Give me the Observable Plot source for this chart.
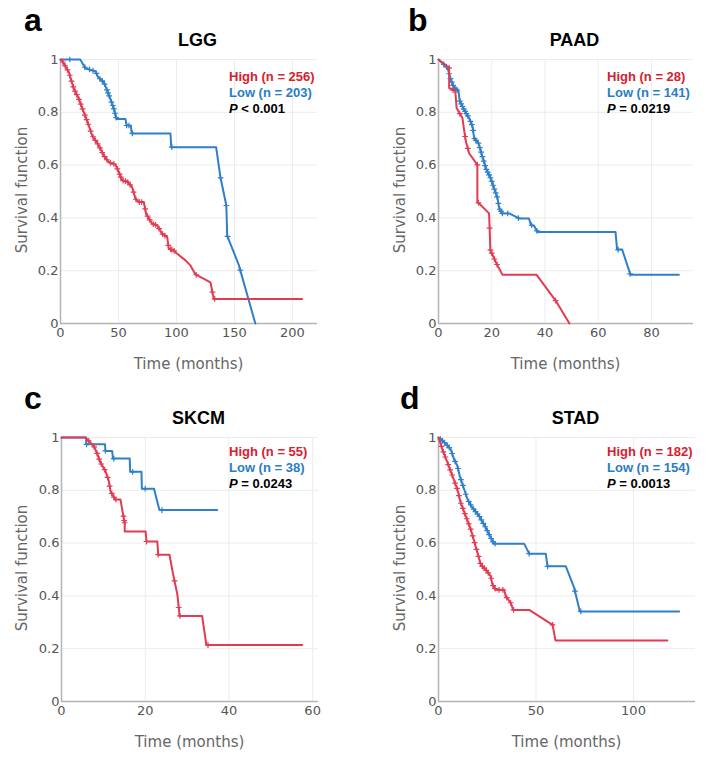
<!DOCTYPE html>
<html><head><meta charset="utf-8">
<script src="https://cdn.jsdelivr.net/npm/d3@7"></script>
<script src="https://cdn.jsdelivr.net/npm/@observablehq/plot@0.6"></script>
<style>
body{margin:0;background:#fff;}
#root{position:relative;width:709px;height:759px;overflow:hidden;}
.panel{position:absolute;width:350px;height:380px;}
.panel svg{position:absolute;left:0;top:0;}
.ov{position:absolute;white-space:nowrap;}
.letter{font:bold 32px "Liberation Sans",Arial,sans-serif;color:#000;line-height:1;}
.title{font:bold 18px "Liberation Sans",Arial,sans-serif;color:#000;transform:translate(-50%,-50%);}
.leg{font:bold 13px "Liberation Sans",Arial,sans-serif;line-height:16px;}
.ylab{font:15px "DejaVu Sans",sans-serif;color:#666;transform:translate(-50%,-50%) rotate(-90deg);}
.xlab{font:15px "DejaVu Sans",sans-serif;color:#666;transform:translate(-50%,-50%);}
</style></head>
<body><div id="root"></div>
<script>
// ---------- data ----------
const panelLetters = ["a", "b", "c", "d"];
const panelTitles = ["LGG", "PAAD", "SKCM", "STAD"];
const highN = [256, 28, 55, 182];
const lowN = [203, 141, 38, 154];
const pTexts = ["< 0.001", "= 0.0219", "= 0.0243", "= 0.0013"];
const xMaxes = [221.6, 95.8, 61.4, 131.8];
const xTickSets = [[0, 50, 100, 150, 200], [0, 20, 40, 60, 80], [0, 20, 40, 60], [0, 50, 100]];
const yTicks = [0, 0.2, 0.4, 0.6, 0.8, 1];

// LGG
const lggHighT = [0, 1.4, 7.2, 11.5, 15.8, 20.1, 24.4, 27.3, 33, 37.3, 41.6, 47.4, 50.3, 53.2, 57.5, 61.8, 64.7, 67.5, 71.8, 73.9, 79, 83.3, 87.6, 92, 93.4, 97.7, 99, 107.8, 112, 116.4, 129.3, 130.7, 132.2, 208.3];
const lggHighS = [1, 0.995, 0.952, 0.889, 0.851, 0.80, 0.75, 0.712, 0.674, 0.636, 0.611, 0.602, 0.573, 0.542, 0.538, 0.516, 0.472, 0.46, 0.46, 0.415, 0.378, 0.372, 0.34, 0.327, 0.283, 0.277, 0.27, 0.239, 0.22, 0.186, 0.156, 0.125, 0.093, 0.093];
const lggHighCens = [2, 4, 6, 8, 9.5, 11, 12.5, 14, 16, 17.5, 19, 21, 22.5, 24, 26, 28, 30, 32, 34, 36, 38, 40, 43, 46, 49, 51, 52, 54, 56, 58, 60, 63, 65, 68, 70, 73, 75, 77, 80, 82, 85, 88, 90, 93, 95, 96, 98, 117, 131, 133];
const lggLowT = [0, 17, 21.5, 30.2, 32.5, 37.3, 40.2, 43, 46, 48.3, 56, 57, 60.5, 61.5, 94.8, 95.5, 134.2, 137.9, 143, 143.7, 153.7, 168];
const lggLowS = [1, 1, 0.967, 0.955, 0.933, 0.914, 0.883, 0.851, 0.813, 0.775, 0.775, 0.75, 0.75, 0.72, 0.72, 0.668, 0.668, 0.554, 0.447, 0.333, 0.222, 0];
const lggLowCens = [8, 21, 25, 28, 31, 34, 36, 38, 40, 41, 42, 44, 45, 46, 47, 48, 57, 59, 62, 96, 138, 143, 144, 155];

// PAAD
const paadHighT = [0, 4, 4, 6.3, 6.8, 9, 9.6, 10.3, 11.5, 14.6, 14.6, 19, 19.5, 21.5, 24, 36.8, 44, 49.2];
const paadHighS = [1, 0.968, 0.892, 0.88, 0.816, 0.778, 0.734, 0.689, 0.645, 0.601, 0.461, 0.417, 0.278, 0.233, 0.185, 0.185, 0.087, 0];
const paadHighCens = [4, 5.5, 8, 10, 11, 14.6, 15, 19.2, 19.5, 20, 21, 22, 44];
const paadLowT = [0, 3.4, 4.6, 5.9, 7.5, 8, 9.6, 11.5, 12.8, 13.4, 15, 16.3, 17.8, 19.6, 20.9, 22.2, 22.8, 24, 26.5, 30.3, 34, 34.7, 35.9, 37.2, 66.5, 67.1, 69, 72.1, 90.3];
const paadLowS = [1, 0.968, 0.924, 0.892, 0.88, 0.842, 0.81, 0.778, 0.746, 0.702, 0.683, 0.639, 0.588, 0.55, 0.512, 0.474, 0.436, 0.417, 0.417, 0.398, 0.398, 0.373, 0.37, 0.347, 0.347, 0.28, 0.28, 0.185, 0.185];
const paadLowCens = [2, 3, 4, 4.5, 5, 5.5, 6, 6.5, 7, 8, 8.5, 9, 9.5, 10, 10.5, 11, 12, 12.5, 13, 13.5, 14, 15, 15.5, 16, 16.5, 17, 17.5, 18, 18.5, 19, 19.5, 20, 20.5, 21, 21.5, 22, 22.5, 23, 23.5, 24, 26, 30, 35, 37, 67.5, 72];

// SKCM
const skcmHighT = [0, 5.7, 7.7, 8.5, 9.3, 10.5, 11.3, 11.7, 12.8, 14.1, 14.5, 15.1, 15.1, 20.1, 20.3, 22.9, 23.1, 25.8, 26.6, 27.7, 28.2, 33.6, 34.6, 57.5];
const skcmHighS = [1, 1, 0.968, 0.94, 0.905, 0.873, 0.835, 0.797, 0.765, 0.765, 0.727, 0.677, 0.644, 0.644, 0.606, 0.606, 0.556, 0.556, 0.487, 0.404, 0.324, 0.324, 0.214, 0.214];
const skcmHighCens = [6.5, 7.8, 8.5, 9, 9.5, 10.3, 11, 11.5, 12, 12.5, 13, 14.8, 15, 15.1, 20.3, 23.1, 27, 28, 28.3, 35];
const skcmLowT = [0, 5.9, 5.9, 10.4, 10.5, 12.1, 12.3, 16.3, 16.4, 19.1, 19.2, 22.1, 23.4, 37.2];
const skcmLowS = [1, 1, 0.974, 0.974, 0.949, 0.949, 0.92, 0.92, 0.87, 0.87, 0.806, 0.806, 0.725, 0.725];
const skcmLowCens = [6, 10.5, 12.5, 17, 20, 24];

// STAD
const stadHighT = [0, 2, 4.6, 7.2, 9.7, 11.4, 14, 16.6, 18.3, 20, 21.7, 24.3, 26.8, 27.7, 29.4, 33.7, 34.5, 37.1, 38.3, 46.5, 58.5, 60, 117.4];
const stadHighS = [1, 0.955, 0.905, 0.854, 0.803, 0.753, 0.702, 0.651, 0.607, 0.563, 0.518, 0.499, 0.474, 0.442, 0.423, 0.423, 0.398, 0.373, 0.347, 0.347, 0.29, 0.231, 0.231];
const stadHighCens = [1.5, 2.5, 3.5, 5, 6, 7, 8.5, 9.5, 10.5, 11.5, 12.5, 13.5, 14.5, 15.5, 16.5, 17.5, 18.5, 19.5, 20.5, 21.5, 22.5, 23.5, 24.5, 25.5, 27, 28, 29, 31, 33, 35, 37, 38.5, 58.5];
const stadLowT = [0, 3.8, 6.3, 8, 9.7, 10.9, 13.2, 14.9, 17.4, 20.9, 24.3, 26.8, 28.5, 43.9, 46.5, 55, 55.9, 65.3, 69.6, 72.5, 123.4];
const stadLowS = [1, 0.976, 0.955, 0.917, 0.892, 0.854, 0.803, 0.765, 0.734, 0.702, 0.658, 0.62, 0.598, 0.598, 0.56, 0.56, 0.512, 0.512, 0.43, 0.341, 0.341];
const stadLowCens = [1, 2, 3, 4.5, 5.5, 7, 8.5, 10, 11.5, 12.5, 14, 15.5, 16.5, 18, 19, 20, 21, 22, 23, 24, 25, 26, 27, 28, 29, 46.5, 56, 70, 73];

// ---------- helpers ----------
const RED = "#e23b52", BLUE = "#2f7fc9", LEG_RED = "#d8202f", LEG_BLUE = "#2a7cc6";
function rows(T, S) { return T.map((t, i) => ({t, s: S[i]})); }
function at(T, S, t) {
  for (let i = 0; i < T.length - 1; i++) {
    if (t >= T[i] && t <= T[i + 1]) {
      if (T[i + 1] === T[i]) return S[i];
      return S[i] + (S[i + 1] - S[i]) * (t - T[i]) / (T[i + 1] - T[i]);
    }
  }
  return S[S.length - 1];
}
function cens(T, S, C) { return C.map(t => ({t, s: at(T, S, t)})); }

const curves = [
  [lggHighT, lggHighS, lggHighCens, lggLowT, lggLowS, lggLowCens],
  [paadHighT, paadHighS, paadHighCens, paadLowT, paadLowS, paadLowCens],
  [skcmHighT, skcmHighS, skcmHighCens, skcmLowT, skcmLowS, skcmLowCens],
  [stadHighT, stadHighS, stadHighCens, stadLowT, stadLowS, stadLowCens]
];
const pos = [[0, 0], [378, 0], [0, 378], [378, 378]];
const margins = [[60, 23], [60, 25], [61, 22], [60, 23]];
const letterX = [24, 30, 24, 22];

const root = document.getElementById("root");
curves.forEach((c, k) => {
  const [hT, hS, hC, lT, lS, lC] = c;
  const xt = xTickSets[k];
  const div = document.createElement("div");
  div.className = "panel";
  div.style.left = pos[k][0] + "px";
  div.style.top = pos[k][1] + "px";
  const chart = Plot.plot({
    width: 340, height: 380,
    marginLeft: margins[k][0], marginRight: margins[k][1], marginTop: 59, marginBottom: 57,
    style: {fontFamily: "DejaVu Sans, sans-serif", fontSize: "13px", color: "#555", background: "transparent", overflow: "visible"},
    x: {domain: [0, xMaxes[k]]},
    y: {domain: [0, 1]},
    marks: [
      Plot.gridX(xt.filter(d => d > 0), {stroke: "#ececec", strokeOpacity: 1, strokeWidth: 1}),
      Plot.gridY(yTicks.filter(d => d > 0), {stroke: "#ececec", strokeOpacity: 1, strokeWidth: 1}),
      Plot.ruleX([0], {stroke: "#b4b4b4", strokeWidth: 1.5}),
      Plot.ruleY([0], {stroke: "#b4b4b4", strokeWidth: 1.5}),
      Plot.axisX(xt, {tickSize: 0, tickPadding: 4, label: null, fill: "#555", fontSize: 13}),
      Plot.axisY(yTicks, {tickSize: 0, tickPadding: 2, label: null, fill: "#555", fontSize: 13,
        tickFormat: d => (d === 0 || d === 1) ? String(d) : d.toFixed(1)}),
      Plot.line(rows(lT, lS), {x: "t", y: "s", stroke: BLUE, strokeWidth: 2}),
      Plot.dot(cens(lT, lS, lC), {x: "t", y: "s", symbol: "plus", r: 2, stroke: BLUE, strokeWidth: 1.2}),
      Plot.line(rows(hT, hS), {x: "t", y: "s", stroke: RED, strokeWidth: 2}),
      Plot.dot(cens(hT, hS, hC), {x: "t", y: "s", symbol: "plus", r: 2, stroke: RED, strokeWidth: 1.2})
    ]
  });
  div.appendChild(chart);
  const plotCx = (margins[k][0] + 340 - margins[k][1]) / 2;
  div.insertAdjacentHTML("beforeend",
    `<div class="ov letter" style="left:${letterX[k]}px;top:4px">${panelLetters[k]}</div>` +
    `<div class="ov title" style="left:${plotCx + 9}px;top:40px">${panelTitles[k]}</div>` +
    `<div class="ov leg" style="left:229px;top:${k < 2 ? 69 : 66}px">` +
      `<div style="color:${LEG_RED}">High (n = ${highN[k]})</div>` +
      `<div style="color:${LEG_BLUE}">Low (n = ${lowN[k]})</div>` +
      `<div style="color:#000"><i>P</i> ${pTexts[k]}</div></div>` +
    `<div class="ov ylab" style="left:22px;top:190px">Survival function</div>` +
    `<div class="ov xlab" style="left:${plotCx}px;top:364px">Time (months)</div>`
  );
  root.appendChild(div);
});
</script></body></html>
